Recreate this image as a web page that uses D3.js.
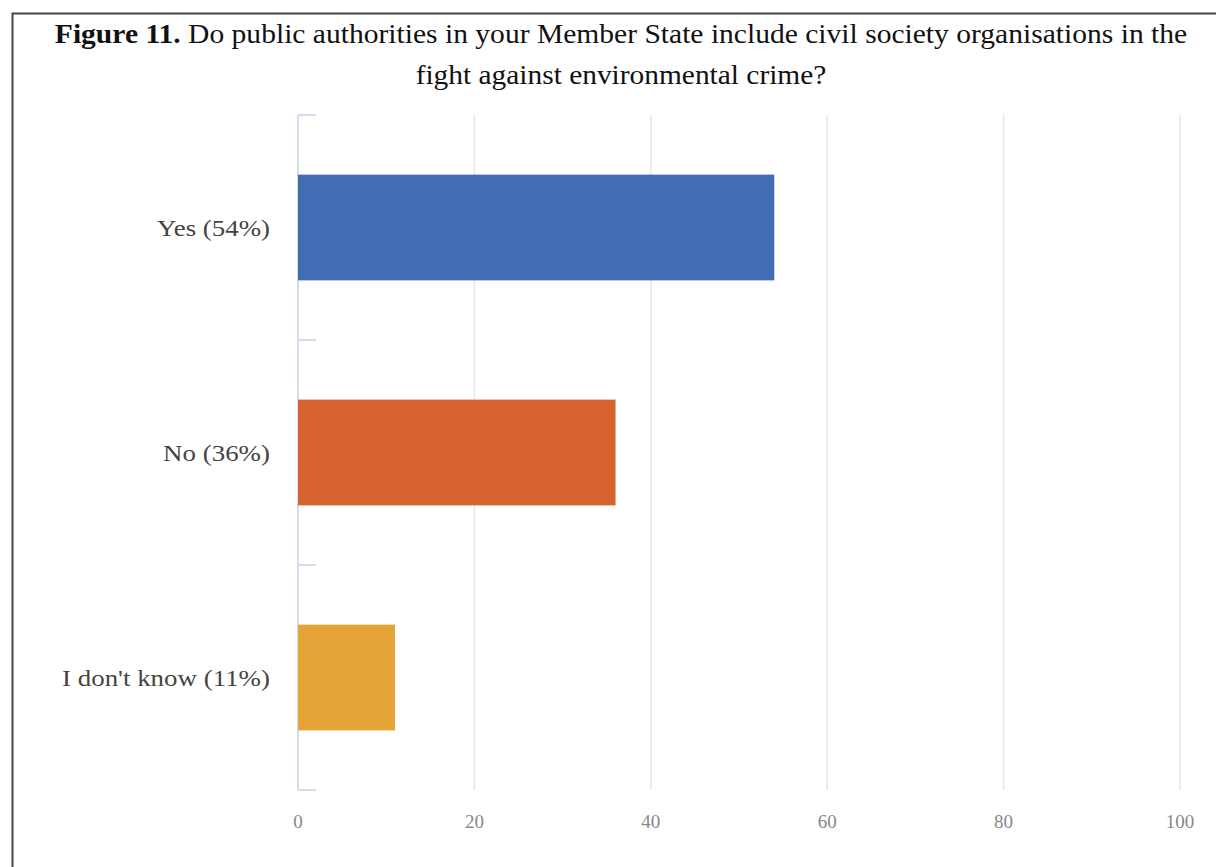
<!DOCTYPE html>
<html><head><meta charset="utf-8">
<script src="https://cdn.jsdelivr.net/npm/d3@7"></script>
<style>body{margin:0;background:#fff}svg{display:block}</style>
</head><body>
<script>
const categories = ["Yes (54%)", "No (36%)", "I don't know (11%)"];
const values = [54, 36, 11];
const colors = ["#426DB2", "#D6622D", "#E5A536"];
const xTicks = [0, 20, 40, 60, 80, 100];
const titleLines = ["Do public authorities in your Member State include civil society organisations in the", "fight against environmental crime?"];

const W = 1216, H = 867;
const svg = d3.select("body").append("svg").attr("width", W).attr("height", H);
// frame
svg.append("path").attr("d", `M12.5,${H} L12.5,13.5 L${W},13.5`).attr("fill","none").attr("stroke","#444").attr("stroke-width",2);

const font = "'Liberation Serif','Times New Roman',serif";
function stretch(sel, target) {
  const w = sel.node().getComputedTextLength();
  sel.attr("transform", null);
  const cx = +sel.attr("x"), cy = +sel.attr("y");
  const s = target / w;
  sel.attr("transform", `translate(${cx},${cy}) scale(${s},1) translate(${-cx},${-cy})`);
}
const t1 = svg.append("text").attr("x", 621).attr("y", 43).attr("text-anchor","middle")
  .attr("font-family", font).attr("font-size", 27).attr("fill","#111");
t1.append("tspan").attr("font-weight","bold").text("Figure 11.");
t1.append("tspan").text(" " + titleLines[0]);
stretch(t1, 1133);
const t2 = svg.append("text").attr("x", 621).attr("y", 84).attr("text-anchor","middle")
  .attr("font-family", font).attr("font-size", 27).attr("fill","#111").text(titleLines[1]);
stretch(t2, 411);

const x = d3.scaleLinear().domain([0,100]).range([298,1180]);
const y = d3.scaleBand().domain(categories).range([115,790]).paddingInner(0.53).paddingOuter(0.265);

// grid
svg.append("g").selectAll("line").data(xTicks.slice(1)).join("line")
  .attr("x1", d=>x(d)).attr("x2", d=>x(d)).attr("y1",115).attr("y2",790)
  .attr("stroke","#e6e6e6").attr("stroke-width",1.5);

// y axis line and ticks
const bandEdges = [115].concat(categories.map(c => y(c) + y.bandwidth() + y.step()*y.paddingInner()/2).slice(0,-1)).concat([790]);
svg.append("line").attr("x1",298).attr("x2",298).attr("y1",115).attr("y2",790).attr("stroke","#d6dcf0").attr("stroke-width",2);
svg.append("g").selectAll("line").data(bandEdges).join("line")
  .attr("x1",298).attr("x2",316).attr("y1",d=>d).attr("y2",d=>d).attr("stroke","#d6dcf0").attr("stroke-width",2);

// bars
svg.append("g").selectAll("rect").data(categories).join("rect")
  .attr("x", x(0)).attr("y", d=>y(d)).attr("height", y.bandwidth())
  .attr("width", (d,i)=>x(values[i])-x(0)).attr("fill",(d,i)=>colors[i]);

// category labels
const labelW = [113, 107, 208];
svg.append("g").selectAll("text").data(categories).join("text")
  .attr("x", 270).attr("y", d=>y(d)+y.bandwidth()/2).attr("dy","0.35em").attr("text-anchor","end")
  .attr("font-family", font).attr("font-size", 24).attr("fill","#444").text(d=>d)
  .each(function(d,i){ stretch(d3.select(this), labelW[i]); });

// x tick labels
svg.append("g").selectAll("text").data(xTicks).join("text")
  .attr("x", d=>x(d)).attr("y", 828).attr("text-anchor","middle")
  .attr("font-family", font).attr("font-size", 19).attr("fill","#888").text(d=>d);
</script>
</body></html>
